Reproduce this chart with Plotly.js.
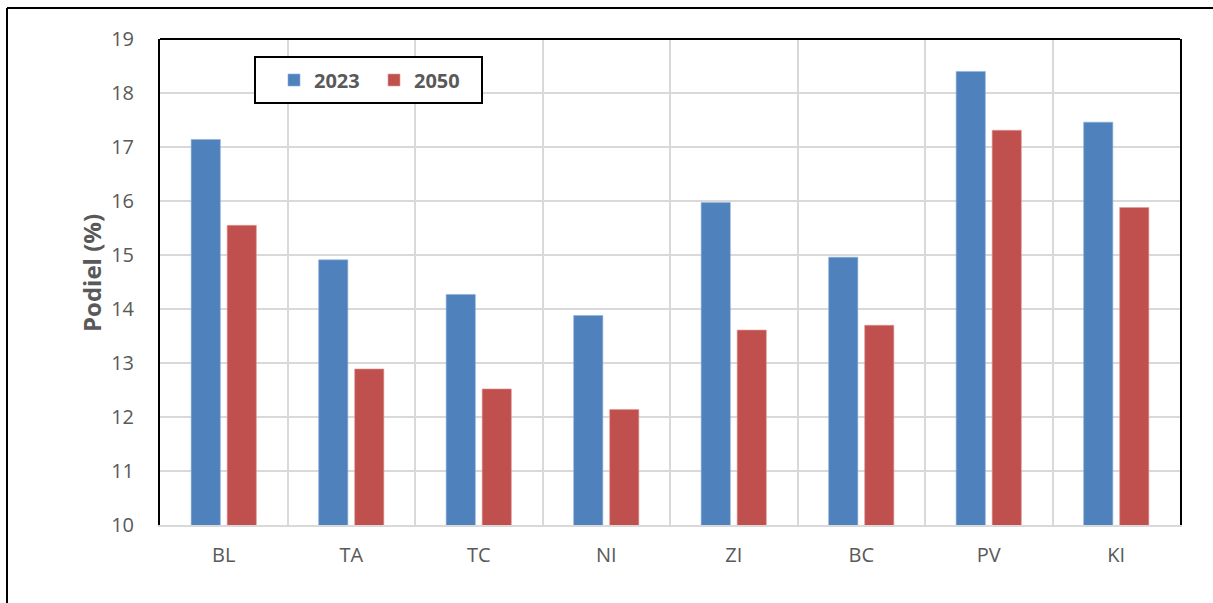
<!DOCTYPE html>
<html>
<head>
<meta charset="utf-8">
<script src="https://cdn.plot.ly/plotly-3.0.1.min.js"></script>
<style>
html,body{margin:0;padding:0;background:#fff;}
#chart{width:1213px;height:603px;}
</style>
</head>
<body>
<div id="chart"></div>
<script>
const categories = ["BL", "TA", "TC", "NI", "ZI", "BC", "PV", "KI"];
const values2023 = [17.14, 14.91, 14.27, 13.88, 15.97, 14.96, 18.40, 17.46];
const values2050 = [15.55, 12.89, 12.52, 12.14, 13.61, 13.70, 17.31, 15.88];
const seriesNames = ["2023", "2050"];
const yTicks = [10, 11, 12, 13, 14, 15, 16, 17, 18, 19];
const yTitle = "Podiel (%)";

const FONT = "'Open Sans', Lato, sans-serif";
const GREY = "#595959";

const traces = [
  {type: "bar", name: seriesNames[0], x: categories, y: values2023,
   marker: {color: "#4f81bd", line: {color: "#8fb0db", width: 0.6}}},
  {type: "bar", name: seriesNames[1], x: categories, y: values2050,
   marker: {color: "#c0504d", line: {color: "#e09a98", width: 0.6}}}
];

const L = 160, R = 33, T = 39, B = 78;
const W = 1213 - L - R, H = 603 - T - B;
const px = v => (v - L) / W;
const py = v => 1 - (v - T) / H;

const layout = {
  width: 1213, height: 603,
  margin: {l: L, r: R, t: T, b: B, pad: 0},
  paper_bgcolor: "#fff", plot_bgcolor: "#fff",
  barmode: "group", bargap: 0.435, bargroupgap: 0.19,
  font: {family: FONT, color: GREY, size: 20},
  showlegend: true,
  legend: {
    orientation: "h", x: px(274), y: py(80),
    xanchor: "left", yanchor: "middle",
    borderwidth: 0, bgcolor: "rgba(0,0,0,0)",
    font: {family: FONT, size: 20, color: GREY, weight: "bold"},
    itemwidth: 30, entrywidth: 55, tracegroupgap: 0
  },
  xaxis: {
    type: "category", tickson: "boundaries",
    showgrid: true, gridcolor: "#d9d9d9", gridwidth: 2,
    showline: true, linecolor: "#d9d9d9", linewidth: 2,
    ticks: "", ticklabelstandoff: 11,
    tickfont: {family: FONT, size: 20, color: GREY},
    fixedrange: true
  },
  yaxis: {
    range: [10, 19], tickvals: yTicks, ticktext: yTicks.map(String),
    showgrid: true, gridcolor: "#d9d9d9", gridwidth: 2,
    showline: true, linecolor: "#000", linewidth: 2, mirror: true,
    zeroline: false, ticks: "", ticklabelstandoff: 20,
    tickfont: {family: FONT, size: 20, color: GREY},
    fixedrange: true
  },
  annotations: [
    {text: yTitle, textangle: -90, xref: "paper", yref: "paper",
     x: px(91), y: py(273), xanchor: "center", yanchor: "middle",
     showarrow: false,
     font: {family: FONT, size: 24, color: GREY, weight: "bold"}}
  ],
  shapes: [
    {type: "line", xref: "paper", yref: "paper", x0: 0, x1: 1, y0: 1, y1: 1,
     line: {color: "#000", width: 2}, layer: "above"},
    {type: "rect", xref: "paper", yref: "paper",
     x0: px(255), x1: px(482), y0: py(103), y1: py(57),
     fillcolor: "#fff", line: {color: "#000", width: 2}, layer: "above"},
    {type: "line", xref: "paper", yref: "paper",
     x0: px(7), x1: px(7), y0: py(8), y1: -B / H,
     line: {color: "#000", width: 2}},
    {type: "line", xref: "paper", yref: "paper",
     x0: px(7), x1: 1 + R / W, y0: py(8), y1: py(8),
     line: {color: "#000", width: 2}}
  ]
};

Plotly.newPlot("chart", traces, layout, {displayModeBar: false, staticPlot: true});
</script>
</body>
</html>
